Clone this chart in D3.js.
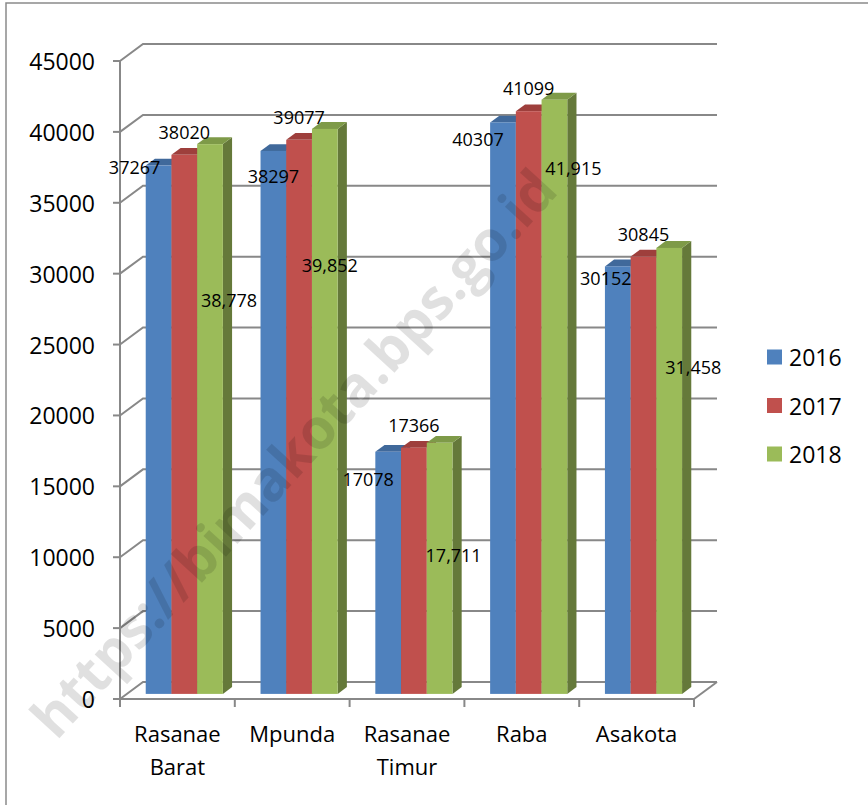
<!DOCTYPE html>
<html lang="id">
<head>
  <meta charset="utf-8">
  <script src="https://d3js.org/d3.v7.min.js"></script>
  <style>
    body { margin: 0; background: #fff; }
    text { font-family: "Open Sans", sans-serif; fill: #000; }
  </style>
</head>
<body>

<svg width="868" height="805"></svg>

<script>
// data
var categories = ["Rasanae Barat", "Mpunda", "Rasanae Timur", "Raba", "Asakota"];
var years = ["2016", "2017", "2018"];
var v2016 = [37267, 38297, 17078, 40307, 30152];
var v2017 = [38020, 39077, 17366, 41099, 30845];
var v2018 = [38778, 39852, 17711, 41915, 31458];
var yTicks = [0, 5000, 10000, 15000, 20000, 25000, 30000, 35000, 40000, 45000];

// label nudges (Excel labels were moved by hand), [dx, dy] from bar top centre
var shift2016 = [[-24, 1], [0, 25], [-20, 27], [-25, 17], [-12, 12]];
var shift2018 = [[19, 156], [5, 136], [14, 112], [19, 68], [24, 119]];

var series = [v2016, v2017, v2018];
var front = ["#4F81BD", "#C0504D", "#9BBB59"];
var topc  = ["#40699B", "#9E3F3C", "#7E9A48"];
var sidec = ["#385D8A", "#8A3835", "#65793A"];

var svg = d3.select("svg");

var depthX = 23, depthY = -17;
var f0 = 0.3, f1 = 0.7;

var x = d3.scaleBand().domain(categories).range([120, 694]);
var inner = d3.scaleBand().domain(years).range([0, x.bandwidth() * 0.672]);
var y = d3.scaleLinear().domain([0, 45000]).range([699, 61]);

// outer frame
svg.append("path")
  .attr("d", "M6,805V3H868")
  .attr("fill", "none").attr("stroke", "#8a8a8a").attr("stroke-width", 1.5);

var grid = svg.append("g").attr("fill", "none").attr("stroke", "#888").attr("stroke-width", 2);

yTicks.forEach(function(t) {
  var yy = y(t);
  grid.append("path")
    .attr("d", "M120," + yy + "L" + (120 + depthX) + "," + (yy + depthY) + "H" + (694 + depthX));
  grid.append("line").attr("x1", 113).attr("x2", 120).attr("y1", yy).attr("y2", yy);
});
// floor edge and axes
grid.append("path").attr("d", "M694," + y(0) + "L" + (694 + depthX) + "," + (y(0) + depthY));
grid.append("line").attr("x1", 120).attr("x2", 120).attr("y1", y(45000)).attr("y2", y(0));
grid.append("line").attr("x1", 120).attr("x2", 694).attr("y1", y(0)).attr("y2", y(0));
x.domain().concat(["end"]).forEach(function(c, i) {
  var xx = 120 + i * x.bandwidth();
  grid.append("line").attr("x1", xx).attr("x2", xx).attr("y1", y(0)).attr("y2", y(0) + 8);
});

// y tick labels
svg.append("g").selectAll("text").data(yTicks).enter().append("text")
  .attr("x", 95).attr("y", function(d) { return y(d); })
  .attr("text-anchor", "end").attr("dominant-baseline", "central")
  .style("font-size", "23px")
  .text(function(d) { return d; });

// category labels
var cat = svg.append("g").selectAll("text").data(categories).enter().append("text")
  .attr("text-anchor", "middle")
  .style("font-size", "22px")
  .attr("x", function(d) { return x(d) + x.bandwidth() / 2; });
cat.each(function(d) {
  var t = d3.select(this);
  d.split(" ").forEach(function(w, i) {
    t.append("tspan").attr("x", x(d) + x.bandwidth() / 2)
      .attr("y", 733 + i * 33).attr("dominant-baseline", "central").text(w);
  });
});

// bars
var groupOff = (x.bandwidth() - inner.range()[1]) / 2;
var bars = svg.append("g");
function barGeom(ci, si) {
  var c = categories[ci];
  var x0 = x(c) + groupOff + inner(years[si]) + f0 * depthX;
  var w = inner.bandwidth();
  var yb = y(0) + f0 * depthY;
  var yt = y(series[si][ci]) + f0 * depthY;
  return { x0: x0, w: w, yb: yb, yt: yt };
}
var dx = (f1 - f0) * depthX, dy = (f1 - f0) * depthY;
categories.forEach(function(c, ci) {
  years.forEach(function(yr, si) {
    var g = barGeom(ci, si);
    bars.append("path").attr("fill", sidec[si])
      .attr("d", "M" + (g.x0 + g.w) + "," + g.yt + "l" + dx + "," + dy + "V" + (g.yb + dy) + "L" + (g.x0 + g.w) + "," + g.yb + "Z");
    bars.append("path").attr("fill", topc[si])
      .attr("d", "M" + g.x0 + "," + g.yt + "l" + dx + "," + dy + "h" + g.w + "l" + (-dx) + "," + (-dy) + "Z");
    bars.append("rect").attr("fill", front[si])
      .attr("x", g.x0).attr("y", g.yt).attr("width", g.w).attr("height", g.yb - g.yt);
  });
});

// watermark
svg.append("text")
  .attr("transform", "translate(292,452) rotate(-47.5)")
  .attr("text-anchor", "middle").attr("dominant-baseline", "central")
  .style("font-size", "56px").style("font-weight", "bold")
  .style("fill", "#000").style("fill-opacity", 0.12)
  .text("https://bimakota.bps.go.id");

// data labels
var lab = svg.append("g").style("font-size", "18px");
var fmt = d3.format(",");
categories.forEach(function(c, ci) {
  [0, 1, 2].forEach(function(si) {
    var g = barGeom(ci, si);
    var cx = g.x0 + g.w / 2, s;
    if (si === 0) s = shift2016[ci];
    else if (si === 1) s = [0, -23];
    else s = shift2018[ci];
    lab.append("text")
      .attr("x", cx + s[0]).attr("y", g.yt + s[1])
      .attr("text-anchor", "middle").attr("dominant-baseline", "central")
      .text(si === 2 ? fmt(series[si][ci]) : series[si][ci]);
  });
});

// legend
var leg = svg.append("g").selectAll("g").data(years).enter().append("g")
  .attr("transform", function(d, i) { return "translate(767," + (357 + i * 48.5) + ")"; });
leg.append("rect").attr("x", 0).attr("y", -7.5).attr("width", 15).attr("height", 15)
  .attr("fill", function(d, i) { return front[i]; });
leg.append("text").attr("x", 22).attr("y", 0).attr("dominant-baseline", "central")
  .style("font-size", "23px").text(function(d) { return d; });
</script>
</body>
</html>
